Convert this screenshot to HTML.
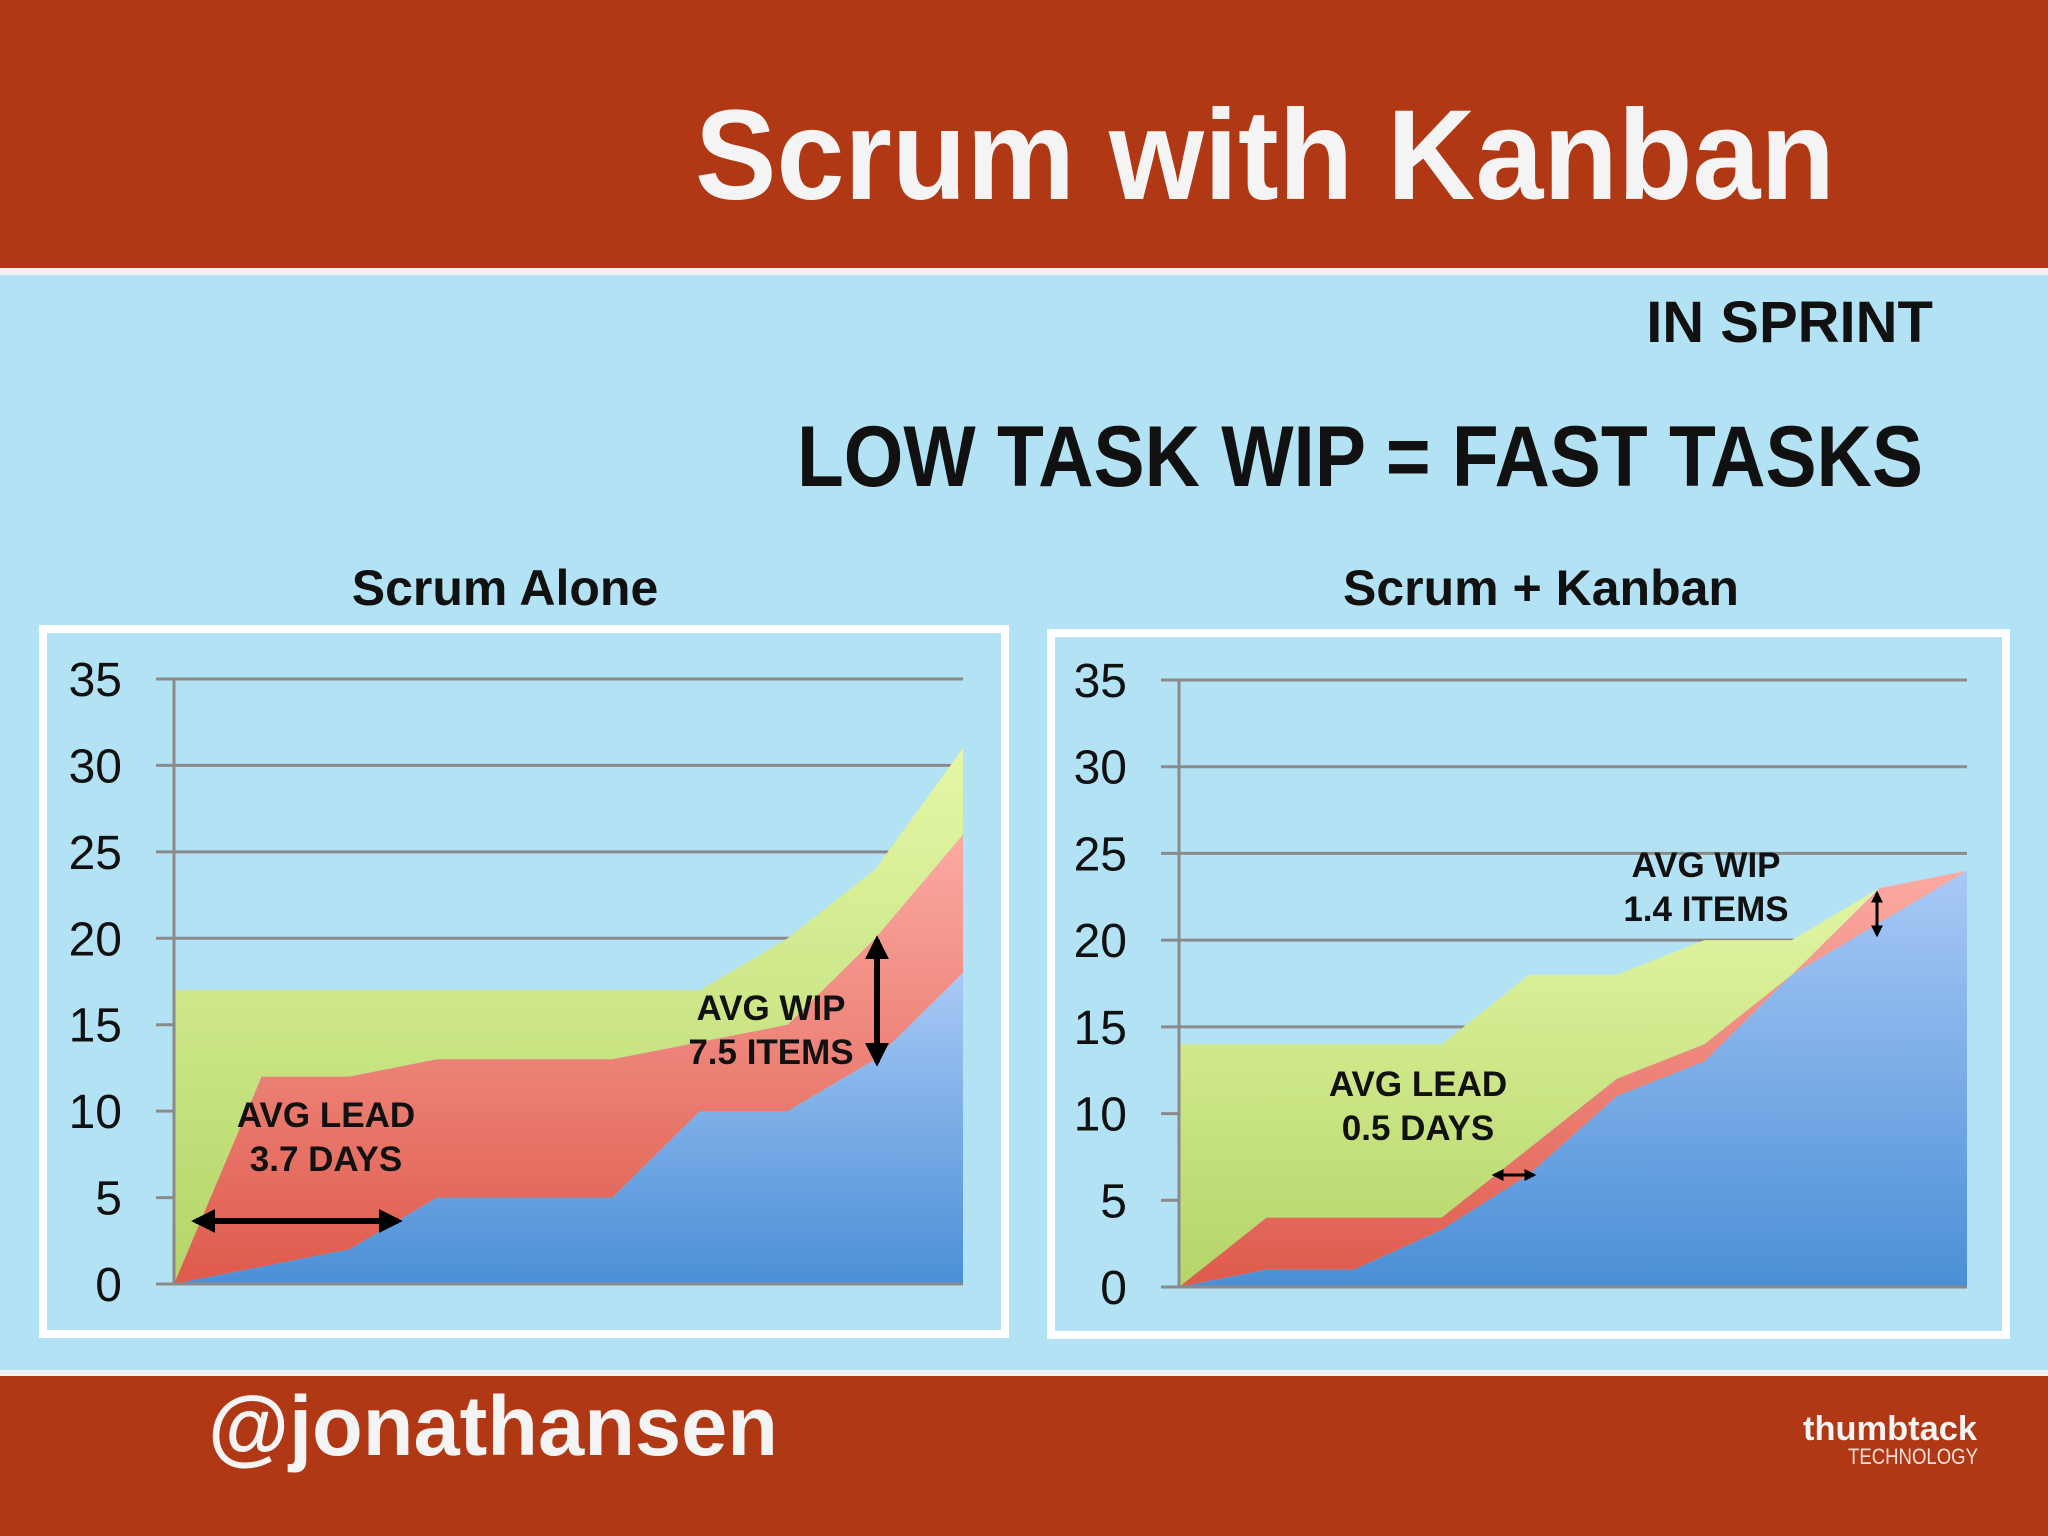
<!DOCTYPE html>
<html><head><meta charset="utf-8"><style>
html,body{margin:0;padding:0;width:2048px;height:1536px;overflow:hidden;background:#b3e2f5}
svg{display:block}
text{font-family:"Liberation Sans",sans-serif}
</style></head><body>
<svg id="s" width="2048" height="1536" viewBox="0 0 2048 1536">
<defs>
<linearGradient id="gb" x1="0" y1="1" x2="0" y2="0"><stop offset="0" stop-color="#4a8fd6"/><stop offset="1" stop-color="#a9c9f6"/></linearGradient>
<linearGradient id="gr" x1="0" y1="1" x2="0" y2="0"><stop offset="0" stop-color="#de5a4c"/><stop offset="1" stop-color="#fbaaa2"/></linearGradient>
<linearGradient id="gg" x1="0" y1="1" x2="0" y2="0"><stop offset="0" stop-color="#b4d568"/><stop offset="1" stop-color="#e4f7a6"/></linearGradient>
<marker id="ah" viewBox="0 0 10 10" refX="8" refY="5" markerWidth="4" markerHeight="4" orient="auto-start-reverse"><path d="M0,0 L10,5 L0,10 z" fill="#000"/></marker>
</defs>
<rect x="0" y="0" width="2048" height="268" fill="#b03815"/>
<rect x="0" y="268" width="2048" height="7" fill="#f2f2f2"/>
<text x="695" y="199" font-size="128" font-weight="bold" fill="#f4f4f4" textLength="1140" lengthAdjust="spacingAndGlyphs">Scrum with Kanban</text>
<text x="1933" y="342" font-size="58" font-weight="bold" fill="#111" text-anchor="end">IN SPRINT</text>
<text x="797" y="486" font-size="86" font-weight="bold" fill="#111" textLength="1126" lengthAdjust="spacingAndGlyphs">LOW TASK WIP = FAST TASKS</text>
<rect x="0" y="1370" width="2048" height="6" fill="#f2f2f2"/>
<rect x="0" y="1376" width="2048" height="160" fill="#b03815"/>
<text x="208" y="1455" font-size="84" font-weight="bold" fill="#f4f4f4" textLength="570" lengthAdjust="spacingAndGlyphs">@jonathansen</text>
<text x="1803" y="1440" font-size="34" font-weight="bold" fill="#f4f4f4" textLength="174" lengthAdjust="spacingAndGlyphs">thumbtack</text>
<text x="1848" y="1464" font-size="22" fill="#f0e0d8" textLength="130" lengthAdjust="spacingAndGlyphs">TECHNOLOGY</text>
<g id="charts"></g>
</svg>
<script>
const ticks = [0,5,10,15,20,25,30,35];
const leftDone = [0,1,2,5,5,5,10,10,13,18];
const leftProgress = [0,12,12,13,13,13,14,15,20,26];
const leftTodo = [17,17,17,17,17,17,17,20,24,31];
const rightDone = [0,1,1,3.3,6.5,11,13,18,21,24];
const rightProgress = [0,4,4,4,8,12,14,18,23,24];
const rightTodo = [14,14,14,14,18,18,20,20,23,24];

const NS='http://www.w3.org/2000/svg';
const root=document.getElementById('charts');
function mk(tag,attrs,parent){const e=document.createElementNS(NS,tag);for(const k in attrs)e.setAttribute(k,attrs[k]);(parent||root).appendChild(e);return e;}

function chart(cfg){
  const g=mk('g',{});
  
  
  const fr=mk('rect',{x:cfg.fx,y:cfg.fy,width:cfg.fw,height:cfg.fh,fill:'#b3e2f5',stroke:'#fff','stroke-width':8},g);
  
  
  const t=mk('text',{x:cfg.tx,y:cfg.ty,'font-size':50,'font-weight':'bold','text-anchor':'middle',fill:'#111'},g);
  t.textContent=cfg.title;
  
  
  const xs=i=>cfg.x0+(cfg.x1-cfg.x0)*i/(cfg.n-1);
  const ys=v=>cfg.y0-(cfg.y0-cfg.y35)*v/35;
  ticks.forEach(v=>{
    const l=mk('line',{x1:cfg.x0-18,x2:cfg.x1,y1:ys(v),y2:ys(v),stroke:'#8a8a8a','stroke-width':3},g);
    
    
    const tl=mk('text',{x:cfg.x0-52,y:ys(v)+17,'font-size':48,'text-anchor':'end',fill:'#111'},g);
    tl.textContent=v;
    
    
  });
  const area=(top,bot,fill,name)=>{
    let d='M'+top.map((v,i)=>xs(i)+','+ys(v)).join(' L');
    for(let i=bot.length-1;i>=0;i--)d+=' L'+xs(i)+','+ys(bot[i]);
    const p=mk('path',{d:d+'Z',fill:fill},g);
    
    
  };
  const zero=cfg.done.map(()=>0);
  area(cfg.todo,cfg.prog,'url(#gg)','area-todo');
  area(cfg.prog,cfg.done,'url(#gr)','area-in-progress');
  area(cfg.done,zero,'url(#gb)','area-done');
  const ax=mk('line',{x1:cfg.x0,x2:cfg.x0,y1:cfg.y35,y2:cfg.y0,stroke:'#8a8a8a','stroke-width':3},g);
  
  
  const bx=mk('line',{x1:cfg.x0-18,x2:cfg.x1,y1:cfg.y0,y2:cfg.y0,stroke:'#8a8a8a','stroke-width':3},g);
  
  
  cfg.notes.forEach(n=>{
    const tx=mk('text',{x:n.x,y:n.y,'font-size':35,'font-weight':'bold','text-anchor':'middle',fill:'#111'},g);
    tx.textContent=n.t;
    
    
  });
  cfg.arrows.forEach(a=>{
    const ar=mk('line',{x1:a[0],y1:a[1],x2:a[2],y2:a[3],stroke:'#000','stroke-width':a[4],'marker-start':'url(#ah)','marker-end':'url(#ah)'},g);
    
    
  });
}
chart({name:'chart-scrum-alone',title:'Scrum Alone',tx:505,ty:605,fx:43,fy:629,fw:962,fh:705,
  x0:174,x1:963,y0:1284,y35:679,n:leftDone.length,done:leftDone,prog:leftProgress,todo:leftTodo,
  notes:[{x:326,y:1127,t:'AVG LEAD'},{x:326,y:1171,t:'3.7 DAYS'},{x:771,y:1020,t:'AVG WIP'},{x:771,y:1064,t:'7.5 ITEMS'}],
  arrows:[[196,1221,398,1221,6],[877,940,877,1062,6]]});
chart({name:'chart-scrum-kanban',title:'Scrum + Kanban',tx:1541,ty:605,fx:1051,fy:633,fw:955,fh:702,
  x0:1179,x1:1967,y0:1287,y35:680,n:rightDone.length,done:rightDone,prog:rightProgress,todo:rightTodo,
  notes:[{x:1418,y:1096,t:'AVG LEAD'},{x:1418,y:1140,t:'0.5 DAYS'},{x:1706,y:877,t:'AVG WIP'},{x:1706,y:921,t:'1.4 ITEMS'}],
  arrows:[[1494,1175,1534,1175,3],[1877,893,1877,935,3]]});
</script>
</body></html>
